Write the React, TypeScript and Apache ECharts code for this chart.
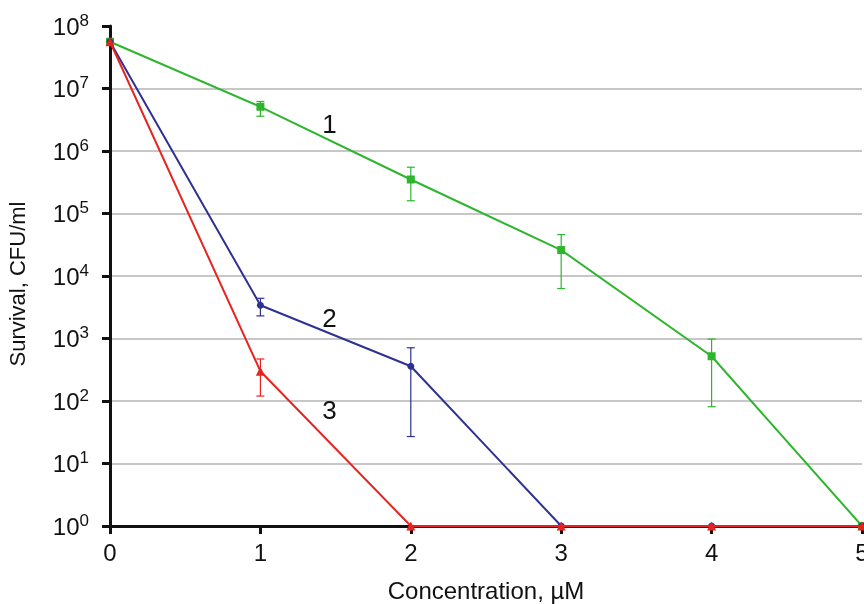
import React, { useEffect, useRef } from "react";
import * as echarts from "echarts";

const concentrations = [0, 1, 2, 3, 4, 5];
const survival1 = [5.6e7, 5.1e6, 3.5e5, 2.6e4, 5.2e2, 1];
const err1Low = [null, 3.6e6, 1.6e5, 6.3e3, 81, null];
const err1High = [null, 6.2e6, 5.5e5, 4.6e4, 9.8e2, null];
const survival2 = [5.6e7, 3.4e3, 3.6e2, 1, 1, 1];
const err2Low = [null, 2.3e3, 27, null, null, null];
const err2High = [null, 4.4e3, 7.1e2, null, null, null];
const survival3 = [5.6e7, 3.0e2, 1, 1, 1, 1];
const err3Low = [null, 1.2e2, null, null, null, null];
const err3High = [null, 4.7e2, null, null, null, null];
const curveLabels = ["1", "2", "3"];
const curveLabelX = [1.46, 1.46, 1.46];
const curveLabelY = [2.7e6, 2.1e3, 71];

const GREEN = "#2db52d";
const BLUE = "#2e3192";
const RED = "#e8231f";

function errData(low: (number | null)[], high: (number | null)[]) {
  const out: number[][] = [];
  concentrations.forEach((x, i) => {
    if (low[i] != null && high[i] != null) out.push([x, low[i] as number, high[i] as number]);
  });
  return out;
}

function errSeries(low: (number | null)[], high: (number | null)[], color: string) {
  return {
    type: "custom",
    data: errData(low, high),
    z: 3,
    renderItem: (params: any, api: any) => {
      const x = api.value(0);
      const lo = api.coord([x, api.value(1)]);
      const hi = api.coord([x, api.value(2)]);
      const w = 4;
      const style = { stroke: color, lineWidth: 1.2 };
      return {
        type: "group",
        children: [
          { type: "line", shape: { x1: lo[0], y1: lo[1], x2: hi[0], y2: hi[1] }, style },
          { type: "line", shape: { x1: lo[0] - w, y1: lo[1], x2: lo[0] + w, y2: lo[1] }, style },
          { type: "line", shape: { x1: hi[0] - w, y1: hi[1], x2: hi[0] + w, y2: hi[1] }, style },
        ],
      };
    },
  };
}

export default function App() {
  const ref = useRef<HTMLDivElement>(null);
  useEffect(() => {
    document.body.style.margin = "0";
    document.documentElement.style.overflow = "hidden";
    const chart = echarts.init(ref.current!, null, { renderer: "svg", width: 864, height: 604 });
    const font = "Liberation Sans, Arial, sans-serif";
    chart.setOption({
      animation: false,
      textStyle: { fontFamily: font },
      grid: { left: 110, right: 2, top: 26, bottom: 78, containLabel: false, outerBoundsMode: "none" },
      xAxis: {
        type: "value",
        min: 0,
        max: 5,
        interval: 1,
        name: "Concentration, µM",
        nameLocation: "middle",
        nameGap: 52,
        nameTextStyle: { fontSize: 24, color: "#111", fontFamily: font },
        axisLine: { lineStyle: { color: "#111", width: 3 } },
        axisTick: { show: true, length: 8, lineStyle: { color: "#111", width: 3 } },
        axisLabel: { fontSize: 24, color: "#111", margin: 14, fontFamily: font },
        splitLine: { show: false },
      },
      yAxis: {
        type: "log",
        logBase: 10,
        min: 1,
        max: 1e8,
        name: "Survival, CFU/ml",
        nameLocation: "middle",
        nameGap: 82,
        nameTextStyle: { fontSize: 22, color: "#111", fontFamily: font, padding: [0, 16, 0, 0] },
        axisLine: { show: true, lineStyle: { color: "#111", width: 3 } },
        axisTick: { show: true, length: 8, lineStyle: { color: "#111", width: 3 } },
        axisLabel: {
          color: "#111",
          margin: 21,
          fontFamily: font,
          formatter: (v: number) => `{base|10}{sup|${Math.round(Math.log10(v))}}`,
          rich: {
            base: { fontSize: 24, color: "#111", fontFamily: font },
            sup: { fontSize: 17, color: "#111", fontFamily: font, verticalAlign: "bottom", padding: [0, 0, 12, 0] },
          },
        },
        splitLine: {
          show: true,
          showMinLine: false,
          showMaxLine: false,
          lineStyle: { color: "#b4b4b4", width: 1.5 },
        },
      },
      series: [
        errSeries(err1Low, err1High, GREEN),
        errSeries(err2Low, err2High, BLUE),
        errSeries(err3Low, err3High, RED),
        {
          type: "line",
          data: concentrations.map((x, i) => [x, survival1[i]]),
          lineStyle: { color: GREEN, width: 2 },
          itemStyle: { color: GREEN },
          symbol: "rect",
          symbolSize: 8,
          z: 4,
        },
        {
          type: "line",
          data: concentrations.map((x, i) => [x, survival2[i]]),
          lineStyle: { color: BLUE, width: 2 },
          itemStyle: { color: BLUE },
          symbol: "circle",
          symbolSize: 7,
          z: 5,
        },
        {
          type: "line",
          data: concentrations.map((x, i) => [x, survival3[i]]),
          lineStyle: { color: RED, width: 2 },
          itemStyle: { color: RED },
          symbol: "triangle",
          symbolSize: 9,
          z: 6,
        },
        {
          type: "scatter",
          symbolSize: 0,
          z: 7,
          itemStyle: { opacity: 1 },
          data: curveLabels.map((t, i) => ({ value: [curveLabelX[i], curveLabelY[i]], name: t })),
          label: {
            show: true,
            position: "inside",
            formatter: (p: any) => p.name,
            fontSize: 26,
            color: "#111",
            opacity: 1,
            fontFamily: font,
          },
        },
      ],
    });
    return () => chart.dispose();
  }, []);
  return <div ref={ref} style={{ position: "fixed", left: 0, top: 0, width: 864, height: 604 }} />;
}
